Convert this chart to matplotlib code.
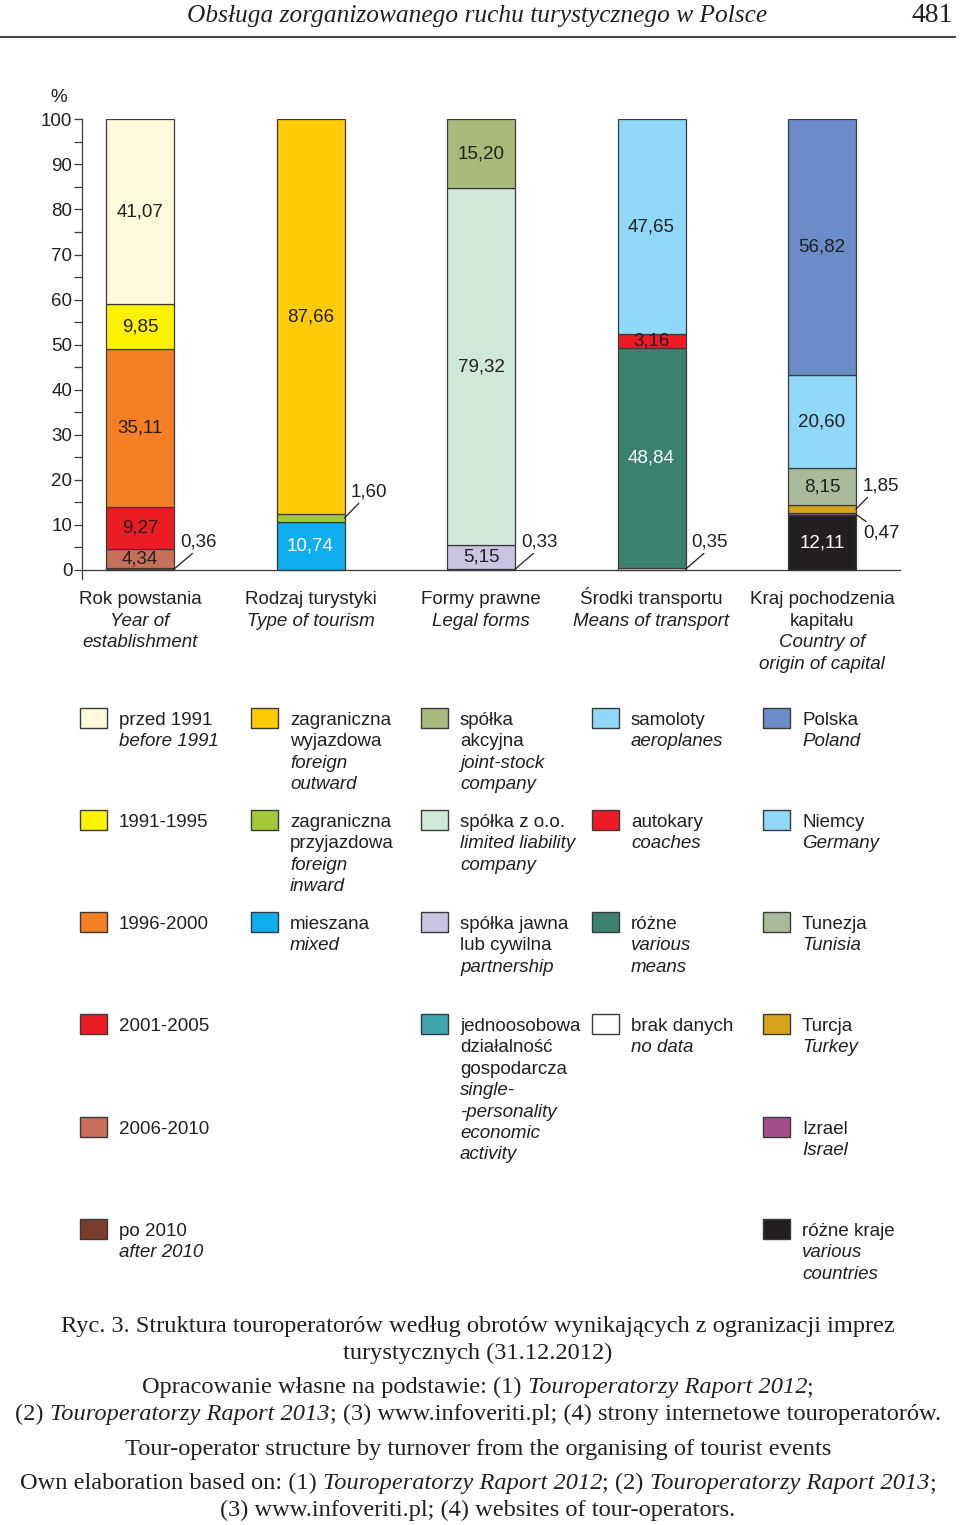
import matplotlib
matplotlib.use("Agg")
import matplotlib.pyplot as plt
from matplotlib.patches import Rectangle
from matplotlib.font_manager import FontProperties

SANS = "Liberation Sans"
SERIF = "Liberation Serif"
INK = "#231f20"
EDGE = "#3a3a3a"
FS = 13.5

# stacked segments, bottom -> top (% of turnover)
year_cats = ["po 2010", "2006-2010", "2001-2005", "1996-2000", "1991-1995", "przed 1991"]
year_vals = [0.36, 4.34, 9.27, 35.11, 9.85, 41.07]

tourism_cats = ["mieszana", "zagraniczna przyjazdowa", "zagraniczna wyjazdowa"]
tourism_vals = [10.74, 1.60, 87.66]

legal_cats = ["jednoosobowa", "spółka jawna", "spółka z o.o.", "spółka akcyjna"]
legal_vals = [0.33, 5.15, 79.32, 15.20]

transport_cats = ["brak danych", "różne", "autokary", "samoloty"]
transport_vals = [0.35, 48.84, 3.16, 47.65]

capital_cats = ["różne kraje", "Izrael", "Turcja", "Tunezja", "Niemcy", "Polska"]
capital_vals = [12.11, 0.47, 1.85, 8.15, 20.60, 56.82]

group_pl = ["Rok powstania", "Rodzaj turystyki", "Formy prawne",
            "Środki transportu", "Kraj pochodzenia\nkapitału"]
group_en = ["Year of\nestablishment", "Type of tourism", "Legal forms",
            "Means of transport", "Country of\norigin of capital"]

legend_pl = {
    "przed 1991": "przed 1991", "1991-1995": "1991-1995", "1996-2000": "1996-2000",
    "2001-2005": "2001-2005", "2006-2010": "2006-2010", "po 2010": "po 2010",
    "zagraniczna wyjazdowa": "zagraniczna\nwyjazdowa",
    "zagraniczna przyjazdowa": "zagraniczna\nprzyjazdowa",
    "mieszana": "mieszana",
    "spółka akcyjna": "spółka\nakcyjna", "spółka z o.o.": "spółka z o.o.",
    "spółka jawna": "spółka jawna\nlub cywilna",
    "jednoosobowa": "jednoosobowa\ndziałalność\ngospodarcza",
    "samoloty": "samoloty", "autokary": "autokary", "różne": "różne",
    "brak danych": "brak danych",
    "Polska": "Polska", "Niemcy": "Niemcy", "Tunezja": "Tunezja", "Turcja": "Turcja",
    "Izrael": "Izrael", "różne kraje": "różne kraje",
}
legend_en = {
    "przed 1991": "before 1991", "po 2010": "after 2010",
    "zagraniczna wyjazdowa": "foreign\noutward",
    "zagraniczna przyjazdowa": "foreign\ninward",
    "mieszana": "mixed",
    "spółka akcyjna": "joint-stock\ncompany",
    "spółka z o.o.": "limited liability\ncompany",
    "spółka jawna": "partnership",
    "jednoosobowa": "single-\n-personality\neconomic\nactivity",
    "samoloty": "aeroplanes", "autokary": "coaches", "różne": "various\nmeans",
    "brak danych": "no data",
    "Polska": "Poland", "Niemcy": "Germany", "Tunezja": "Tunisia", "Turcja": "Turkey",
    "Izrael": "Israel", "różne kraje": "various\ncountries",
}

colors = {
    "przed 1991": "#fef9d9", "1991-1995": "#fff200", "1996-2000": "#f47f24",
    "2001-2005": "#ec1c24", "2006-2010": "#c8705a", "po 2010": "#7a3e2b",
    "zagraniczna wyjazdowa": "#ffcb05", "zagraniczna przyjazdowa": "#a3c93a",
    "mieszana": "#0faeef",
    "spółka akcyjna": "#a8b97a", "spółka z o.o.": "#d0e8d8",
    "spółka jawna": "#c8c4e2", "jednoosobowa": "#40a4ae",
    "samoloty": "#8fd8f8", "autokary": "#ed1c24", "różne": "#3a8170",
    "brak danych": "#ffffff",
    "Polska": "#6a8cc8", "Niemcy": "#8fd8f8", "Tunezja": "#a8bc9c",
    "Turcja": "#d6a41a", "Izrael": "#a54d8b", "różne kraje": "#231f20",
}
white_text = {"mieszana", "różne", "różne kraje"}
# thin segments get their label outside the bar: (dx pt, dy pt, leader end on text)
outside = {
    "po 2010": (4.3, 19.5, 0.43), "zagraniczna przyjazdowa": (4.3, 18.7, 0.3),
    "jednoosobowa": (4.3, 19.5, 0.43), "brak danych": (4.3, 19.5, 0.43),
    "Turcja": (5.0, 16.6, 0.2), "Izrael": (5.0, -13.4, 0.2),
}

groups = [(year_cats, year_vals), (tourism_cats, tourism_vals), (legal_cats, legal_vals),
          (transport_cats, transport_vals), (capital_cats, capital_vals)]

fig = plt.figure(figsize=(9.6, 15.25), dpi=100)
H = 1525.0
PXU = (570 - 119.3) / 100.0
ax = fig.add_axes([82 / 960, (H - 570 - 2 * PXU) / H, (900 - 82) / 960, (570 - 119.3 + 2 * PXU) / H])
W = 68 / 170.5

for i, (cats, vals) in enumerate(groups):
    bottom = 0.0
    for c, v in zip(cats, vals):
        ax.bar(i, v, W, bottom=bottom, color=colors[c], edgecolor=EDGE, linewidth=0.9, zorder=2)
        txt = f"{v:.2f}".replace(".", ",")
        mid = bottom + v / 2
        if c in outside:
            dx, dy, rx = outside[c]
            ax.annotate(txt, xy=(i + W / 2, mid), xytext=(dx, dy), textcoords="offset points",
                        ha="left", va="center", fontsize=FS, family=SANS, color=INK,
                        arrowprops=dict(arrowstyle="-", color=INK, lw=0.9, shrinkA=0, shrinkB=0,
                                        relpos=(rx, 0) if dy > 0 else (rx, 1)))
        else:
            ax.text(i, mid, txt, ha="center", va="center", fontsize=FS, family=SANS,
                    color="white" if c in white_text else INK, zorder=3)
        bottom += v

    # category names under the bars
    lines = [(l, "normal") for l in group_pl[i].split("\n")] + \
            [(l, "italic") for l in group_en[i].split("\n")]
    for k, (l, st) in enumerate(lines):
        ax.annotate(l, xy=(i, 0), xytext=(0, -(34.5 + 21.4 * k) / 1.3889),
                    textcoords="offset points", ha="center", va="baseline",
                    fontsize=FS, family=SANS, style=st, color=INK, annotation_clip=False)

ax.set_xlim((82 - 140) / 170.5, (900 - 140) / 170.5)
ax.set_ylim(-2, 100)
ax.set_yticks(range(0, 101, 10))
ax.set_yticks(range(5, 100, 10), minor=True)
ax.set_xticks([])
for s in ["top", "right"]:
    ax.spines[s].set_visible(False)
ax.spines["bottom"].set_position(("data", 0))
for s in ["left", "bottom"]:
    ax.spines[s].set_color(EDGE)
    ax.spines[s].set_linewidth(0.9)
ax.tick_params(axis="y", which="both", length=6, width=0.9, color=EDGE, pad=1,
               labelsize=FS, labelcolor=INK)
for t in ax.get_yticklabels():
    t.set_family(SANS)

# overlay in pixel coordinates for the page furniture
ov = fig.add_axes([0, 0, 1, 1], zorder=-1)
ov.set_xlim(0, 960)
ov.set_ylim(H, 0)
ov.axis("off")
ov.text(59, 97, "%", ha="center", va="center", fontsize=FS, family=SANS, color=INK)

# legend grid
sw_x = [80, 251, 421, 592, 763]
row_y = [708, 810, 912, 1014, 1117, 1219]
legend_cols = [year_cats[::-1], tourism_cats[::-1], legal_cats[::-1],
               transport_cats[::-1], capital_cats[::-1]]
for x, cats in zip(sw_x, legend_cols):
    for r, c in enumerate(cats):
        y = row_y[r]
        ov.add_patch(Rectangle((x, y), 27, 20, facecolor=colors[c], edgecolor=EDGE, lw=1.0))
        lines = [(l, "normal") for l in legend_pl[c].split("\n")]
        if c in legend_en:
            lines += [(l, "italic") for l in legend_en[c].split("\n")]
        for k, (l, st) in enumerate(lines):
            ov.text(x + 39, y + 17 + 21.4 * k, l, ha="left", va="baseline", fontsize=FS,
                    family=SANS, style=st, color=INK)

# header
ov.text(477, 22, "Obsługa zorganizowanego ruchu turystycznego w Polsce", ha="center",
        va="baseline", fontsize=18.3, family=SERIF, style="italic", color=INK)
ov.text(953, 22, "481", ha="right", va="baseline", fontsize=20, family=SERIF, color=INK)
ov.plot([0, 955], [37, 37], color=INK, lw=1.2)

# caption with mixed roman / italic pieces
renderer = fig.canvas.get_renderer()
CAP = 17.6


def width(s, st):
    fp = FontProperties(family=SERIF, style=st, size=CAP)
    w1 = renderer.get_text_width_height_descent(s + "|", fp, ismath=False)[0]
    w0 = renderer.get_text_width_height_descent("|", fp, ismath=False)[0]
    return w1 - w0


def mixed(y, pieces, cx=478):
    ws = [width(s, st) for s, st in pieces]
    x = cx - sum(ws) / 2
    for (s, st), w in zip(pieces, ws):
        ov.text(x, y, s, ha="left", va="baseline", fontsize=CAP, family=SERIF,
                style=st, color=INK)
        x += w


R, I = "normal", "italic"
caption = [
    (1332, [("Ryc. 3. Struktura touroperatorów według obrotów wynikających z ogranizacji imprez", R)]),
    (1359, [("turystycznych (31.12.2012)", R)]),
    (1393, [("Opracowanie własne na podstawie: (1) ", R), ("Touroperatorzy Raport 2012", I), (";", R)]),
    (1420, [("(2) ", R), ("Touroperatorzy Raport 2013", I),
            ("; (3) www.infoveriti.pl; (4) strony internetowe touroperatorów.", R)]),
    (1455, [("Tour-operator structure by turnover from the organising of tourist events", R)]),
    (1489, [("Own elaboration based on: (1) ", R), ("Touroperatorzy Raport 2012", I), ("; (2) ", R),
            ("Touroperatorzy Raport 2013", I), (";", R)]),
    (1516, [("(3) www.infoveriti.pl; (4) websites of tour-operators.", R)]),
]
for y, pieces in caption:
    mixed(y, pieces)

fig.savefig("out.png", dpi=100)
